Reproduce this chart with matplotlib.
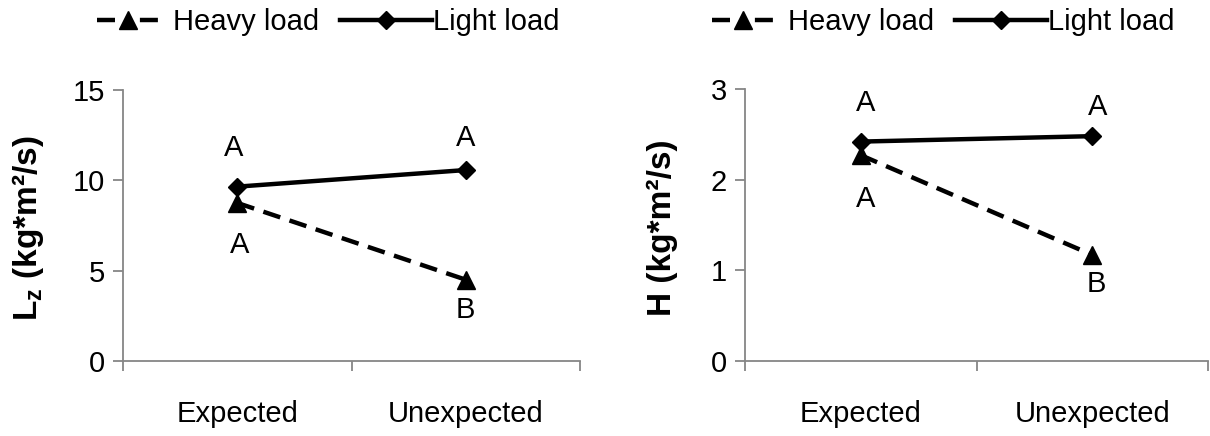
import matplotlib
matplotlib.use("Agg")
import matplotlib.pyplot as plt
from matplotlib.lines import Line2D

plt.rcParams['font.family'] = ['Liberation Sans', 'DejaVu Sans']

categories = ["Expected", "Unexpected"]
series_names = ["Heavy load", "Light load"]

lz_heavy = [8.75, 4.5]
lz_light = [9.65, 10.57]
lz_heavy_letters = ["A", "B"]
lz_light_letters = ["A", "A"]

h_heavy = [2.27, 1.17]
h_light = [2.42, 2.48]
h_heavy_letters = ["A", "B"]
h_light_letters = ["A", "A"]

W, H, DPI = 1210, 436, 100
fig = plt.figure(figsize=(W / DPI, H / DPI), dpi=DPI)

GRAY = "#868686"
FS = 21
LFS = 24
PX = 72.0 / DPI  # points per pixel
LW = 3.2
DASH = (4.0, 2.2)
LEG_DASH = (4.05, 5.6)
TRI_MS = 13
DIA_MS = 9.5


def heavy_handle():
    return Line2D([], [], color="black", lw=LW, dashes=LEG_DASH, marker="^", markersize=TRI_MS)


def light_handle():
    return Line2D([], [], color="black", lw=LW, marker="D", markersize=DIA_MS)


def make_panel(rect, heavy, light, heavy_letters, light_letters, ylim, yticks,
               ylabel, ylabel_x, leg_heavy_x, leg_light_x, light_offsets, heavy_offsets):
    ax = fig.add_axes(rect)
    xs = [0.5, 1.5]
    ax.plot(xs, heavy, color="black", lw=LW, dashes=DASH,
            marker="^", markersize=TRI_MS, zorder=3)
    ax.plot(xs, light, color="black", lw=LW,
            marker="D", markersize=DIA_MS, zorder=4)
    ax.set_xlim(0, 2)
    ax.set_ylim(*ylim)
    ax.set_yticks(yticks)
    ax.set_yticklabels([str(t) for t in yticks])
    ax.set_xticks([0, 1, 2])
    ax.set_xticklabels([])
    ax.set_xticks(xs, minor=True)
    ax.set_xticklabels(categories, minor=True)
    ax.tick_params(axis="x", which="minor", length=0, pad=28, labelsize=FS)
    ax.tick_params(axis="x", which="major", length=7, width=1.3, color=GRAY, direction="out")
    ax.tick_params(axis="y", length=7, width=1.3, color=GRAY, direction="out",
                   labelsize=FS, pad=6)
    for s in ["top", "right"]:
        ax.spines[s].set_visible(False)
    for s in ["left", "bottom"]:
        ax.spines[s].set_color(GRAY)
        ax.spines[s].set_linewidth(1.3)
    ax.spines["bottom"].set_zorder(0)

    for x, y, lab, (dx, dy) in zip(xs, light, light_letters, light_offsets):
        ax.annotate(lab, (x, y), xytext=(dx * PX, dy * PX), textcoords="offset points",
                    ha="center", va="center", fontsize=FS)
    for x, y, lab, (dx, dy) in zip(xs, heavy, heavy_letters, heavy_offsets):
        ax.annotate(lab, (x, y), xytext=(dx * PX, dy * PX), textcoords="offset points",
                    ha="center", va="center", fontsize=FS)

    fig.text(ylabel_x, rect[1] + rect[3] / 2 - 3 / H, ylabel, rotation=90, ha="center",
             va="center", fontsize=LFS, fontweight="bold")

    fpx = FS * DPI / 72.0
    ly = 1 - 22 / H
    fig.legend([heavy_handle()], [series_names[0]], loc="center left",
               bbox_to_anchor=(leg_heavy_x / W, ly), frameon=False, fontsize=FS,
               handlelength=62 / fpx, handletextpad=14 / fpx, borderaxespad=0, borderpad=0)
    fig.legend([light_handle()], [series_names[1]], loc="center left",
               bbox_to_anchor=(leg_light_x / W, ly), frameon=False, fontsize=FS,
               handlelength=92 / fpx, handletextpad=1 / fpx, borderaxespad=0, borderpad=0)
    return ax


def rect_from_px(x0, x1, y_top, y_bot):
    return [x0 / W, 1 - y_bot / H, (x1 - x0) / W, (y_bot - y_top) / H]


make_panel(rect_from_px(123, 580, 90, 361), lz_heavy, lz_light,
           lz_heavy_letters, lz_light_letters, (0, 15), [0, 5, 10, 15],
           "L$_\\mathregular{z}$ (kg*m²/s)", 28 / W, 97, 340,
           light_offsets=[(-4, 39), (0, 32)], heavy_offsets=[(2, -42), (0, -30)])

make_panel(rect_from_px(745, 1208, 89, 361), h_heavy, h_light,
           h_heavy_letters, h_light_letters, (0, 3), [0, 1, 2, 3],
           "H (kg*m²/s)", 662 / W, 712, 955,
           light_offsets=[(5, 39), (5, 29)], heavy_offsets=[(5, -44), (4, -29)])

fig.savefig("out.png", dpi=DPI)
